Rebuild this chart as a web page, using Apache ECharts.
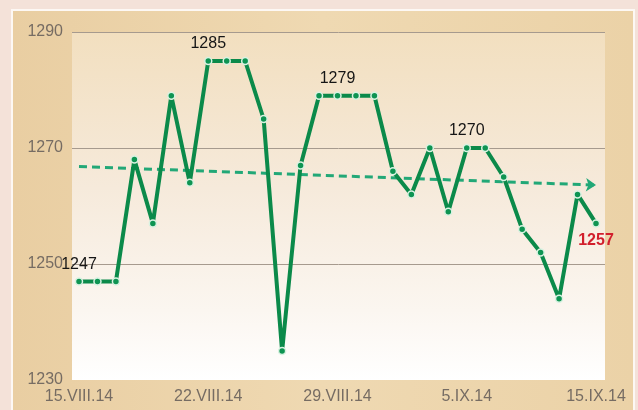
<!DOCTYPE html>
<html>
<head>
<meta charset="utf-8">
<script src="https://cdn.jsdelivr.net/npm/echarts@6/dist/echarts.min.js"></script>
<style>
  html, body { margin: 0; padding: 0; background: #f4e2d9; }
  #panel { position: absolute; left: 11px; top: 9px; width: 620px; height: 410px;
           border: 2px solid #fdf8f4; background: linear-gradient(90deg, #e9cea2 0%, #efd9b2 50%, #ebd2a7 100%); }
  #chart { position: absolute; left: 0; top: 0; width: 638px; height: 410px; }
</style>
</head>
<body>
<div id="panel"></div>
<div id="chart"></div>
<script>
// ---- data ----
const dateLabels = ['15.VIII.14', '22.VIII.14', '29.VIII.14', '5.IX.14', '15.IX.14'];
const labelStep = 7;
const prices = [1247, 1247, 1247, 1268, 1257, 1279, 1264, 1285, 1285, 1285,
                1275, 1235, 1267, 1279, 1279, 1279, 1279, 1266, 1262, 1270,
                1259, 1270, 1270, 1265, 1256, 1252, 1244, 1262, 1257];
const labelledIdx = [0, 7, 14, 21, 28];
const trendStart = 1266.8;
const trendEnd = 1263.6;
const yTicks = [1230, 1250, 1270, 1290];

// ---- build ----
const categories = prices.map((v, i) => (i % labelStep === 0 ? dateLabels[i / labelStep] : ''));
const lastIdx = prices.length - 1;
const seriesData = prices.map((v, i) => {
  if (labelledIdx.indexOf(i) < 0) return v;
  if (i === lastIdx) {
    return { value: v, label: { show: true, position: 'bottom', color: '#d21f2c', fontWeight: 'bold' } };
  }
  return { value: v, label: { show: true, position: 'top', color: '#151515' } };
});

const chart = echarts.init(document.getElementById('chart'), null, { renderer: 'canvas' });
const yMin = yTicks[0], yMax = yTicks[yTicks.length - 1], yStep = yTicks[1] - yTicks[0];
const font = 'Liberation Sans, Arial, sans-serif';

chart.setOption({
  animation: false,
  textStyle: { fontFamily: font },
  grid: [
    { left: 72, right: 33, top: 32, bottom: 30, show: true, borderWidth: 0,
      backgroundColor: new echarts.graphic.LinearGradient(0, 0, 0, 1, [
        { offset: 0, color: '#f2dfbf' },
        { offset: 0.45, color: '#f6eadb' },
        { offset: 0.8, color: '#fbf6f0' },
        { offset: 1, color: '#ffffff' }
      ]) },
    { left: 79, right: 42, top: 32, bottom: 30 }
  ],
  xAxis: [
    { gridIndex: 0, type: 'value', show: false, min: 0, max: 1 },
    { gridIndex: 1, type: 'category', data: categories, boundaryGap: false,
      axisLine: { show: false }, axisTick: { show: false },
      axisLabel: { interval: 0, color: '#766c63', fontSize: 16, margin: 9, fontFamily: font } }
  ],
  yAxis: [
    { gridIndex: 0, type: 'value', min: yMin, max: yMax, interval: yStep,
      axisLine: { show: false }, axisTick: { show: false },
      axisLabel: { color: '#766c63', fontSize: 16, margin: 9, fontFamily: font,
                   formatter: (v) => String(v) },
      splitLine: { lineStyle: { color: ['rgba(0,0,0,0)', '#a69a8e', '#a69a8e', '#a69a8e'], width: 1 } } },
    { gridIndex: 1, type: 'value', min: yMin, max: yMax, interval: yStep, show: false,
      splitLine: { show: false } }
  ],
  series: [{
    type: 'line',
    xAxisIndex: 1, yAxisIndex: 1,
    data: seriesData,
    symbol: 'circle',
    symbolSize: 7,
    lineStyle: { color: '#0b8a4a', width: 4 },
    itemStyle: { color: '#0e9452', borderColor: '#d9f2e2', borderWidth: 1.5 },
    label: { show: false, fontSize: 16, fontFamily: font, distance: 5 },
    emphasis: { disabled: true },
    z: 3,
    markLine: {
      silent: true,
      symbol: ['none', 'arrow'],
      symbolSize: [10, 10],
      label: { show: false },
      lineStyle: { color: '#22a877', width: 3, type: [8, 5], opacity: 1 },
      emphasis: { disabled: true },
      data: [[{ coord: [0, trendStart] }, { coord: [lastIdx, trendEnd] }]],
      z: 2
    }
  }]
});
</script>
</body>
</html>
